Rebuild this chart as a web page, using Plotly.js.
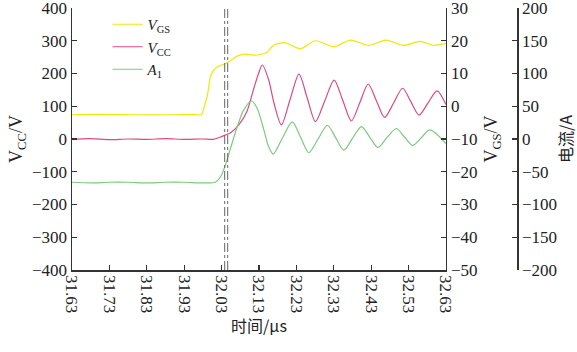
<!DOCTYPE html>
<html><head><meta charset="utf-8">
<script src="https://cdn.plot.ly/plotly-3.0.1.min.js"></script>
<style>
html,body{margin:0;padding:0;background:#fff}
</style>
</head><body><div id="chart" style="width:577px;height:352px"></div>
<script>
// Time ticks (µs)
const tickVals = [31.63,31.73,31.83,31.93,32.03,32.13,32.23,32.33,32.43,32.53,32.63];
const tickText = ["31.63","31.73","31.83","31.93","32.03","32.13","32.23","32.33","32.43","32.53","32.63"];
const vccTicks = [-400,-300,-200,-100,0,100,200,300,400];
const vgsTicks = [-50,-40,-30,-20,-10,0,10,20,30];
const ampTicks = [-200,-150,-100,-50,0,50,100,150,200];

// V_GS (right axis, V)
const vgsTime = [31.63,31.70,31.80,31.90,31.96,31.976,31.981,31.986,31.991,31.996,32.0,32.008,32.018,32.030,32.040,32.054,32.072,32.094,32.115,32.134,32.152,32.169,32.198,32.241,32.281,32.330,32.375,32.424,32.469,32.517,32.560,32.598,32.63];
const vgsValues = [-2.6,-2.5,-2.6,-2.6,-2.5,-2.6,-1.2,0.8,2.8,6.0,8.9,10.8,12.0,12.6,13.0,14.0,15.3,15.9,15.6,15.8,16.6,18.6,19.4,17.6,20.0,18.2,20.2,18.6,20.2,18.6,19.8,18.6,19.2];

// V_CC (left axis, V)
const vccTime = [31.63,31.68,31.73,31.78,31.83,31.88,31.93,31.98,32.008,32.027,32.040,32.054,32.076,32.098,32.115,32.129,32.139,32.156,32.170,32.190,32.213,32.237,32.259,32.281,32.306,32.331,32.354,32.377,32.400,32.422,32.444,32.466,32.490,32.514,32.536,32.558,32.582,32.606,32.63];
const vccValues = [-1,1,-2,0,-1,1,-1,0,-1,6,12,19,43,85,150,201,226,180,110,43,120,198,125,53,117,180,118,55,112,168,117,66,110,155,114,73,110,147,105];

// A1 current (third axis, A)
const a1Time = [31.63,31.68,31.73,31.78,31.83,31.88,31.93,31.98,32.013,32.027,32.040,32.054,32.072,32.089,32.110,32.125,32.143,32.156,32.168,32.193,32.219,32.241,32.263,32.288,32.313,32.335,32.357,32.380,32.404,32.426,32.448,32.472,32.497,32.519,32.541,32.564,32.587,32.63];
const a1Values = [-66,-67,-66,-66,-67,-66,-66,-67,-66,-58,-40,-14,19,44,58,47,14,-12,-23,2,26,3,-21,0,21,2,-17,1,19,3,-13,2,16,3,-10,2,14,-7];

// cursor positions (µs)
const cursorTimes = [32.0383, 32.0463];

const serif = "Liberation Serif";
const cjk = "Noto Sans CJK SC";
const tf = () => ({family: serif, size: 17, color: "#222"});

const traces = [
  {x: vgsTime, y: vgsValues, yaxis: "y2", name: "<i>V</i><sub>GS</sub>", mode: "lines",
   line: {color: "#f2e800", width: 1.2, shape: "spline", smoothing: 0.8}},
  {x: vccTime, y: vccValues, yaxis: "y", name: "<i>V</i><sub>CC</sub>", mode: "lines",
   line: {color: "#dc4a84", width: 1.2, shape: "spline", smoothing: 0.8}},
  {x: a1Time, y: a1Values, yaxis: "y3", name: "<i>A</i><sub>1</sub>", mode: "lines",
   line: {color: "#7ccb7c", width: 1.2, shape: "spline", smoothing: 0.8}}
];

const axLine = () => ({showline: true, linecolor: "#333", linewidth: 1.5, ticks: "inside", ticklen: 5,
  tickcolor: "#333", tickwidth: 1.2, showgrid: false, zeroline: false, tickfont: tf(),
  automargin: false, ticklabeloverflow: "allow"});

const layout = {
  width: 577, height: 352,
  margin: {l: 72, r: 60, t: 8, b: 82},
  paper_bgcolor: "#fff", plot_bgcolor: "#fff",
  font: {family: serif, color: "#222"},
  showlegend: true,
  legend: {x: 0.08, y: 1.0, xanchor: "left", yanchor: "top", bgcolor: "rgba(0,0,0,0)",
    font: {family: serif, size: 15, color: "#222"}, tracegroupgap: 0},
  xaxis: Object.assign(axLine(), {domain: [0, 0.8404], range: [31.63, 32.63],
    tickvals: tickVals, ticktext: tickText, tickangle: 90,
    title: {text: "时间/μs", font: {family: cjk, size: 16, color: "#222"}, standoff: 8}}),
  yaxis: Object.assign(axLine(), {range: [-400, 400], tickvals: vccTicks,
    title: {text: "V<sub>CC</sub>/V", font: {family: serif, size: 18, color: "#222"}, standoff: 4}}),
  yaxis2: Object.assign(axLine(), {range: [-50, 30], tickvals: vgsTicks, overlaying: "y", side: "right", anchor: "x",
    title: {text: "V<sub>GS</sub>/V", font: {family: serif, size: 18, color: "#222"}, standoff: 8}}),
  yaxis3: Object.assign(axLine(), {range: [-200, 200], tickvals: ampTicks, overlaying: "y", side: "right",
    anchor: "free", position: 1.0,
    title: {text: "电流/A", font: {family: cjk, size: 16, color: "#222"}, standoff: 6}}),
  shapes: cursorTimes.map(t => ({type: "line", xref: "x", yref: "y domain", x0: t, x1: t, y0: 0, y1: 1,
    line: {color: "#666", width: 1, dash: "dashdot"}}))
};

Plotly.newPlot("chart", traces, layout, {staticPlot: true, displayModeBar: false});
</script></body></html>
